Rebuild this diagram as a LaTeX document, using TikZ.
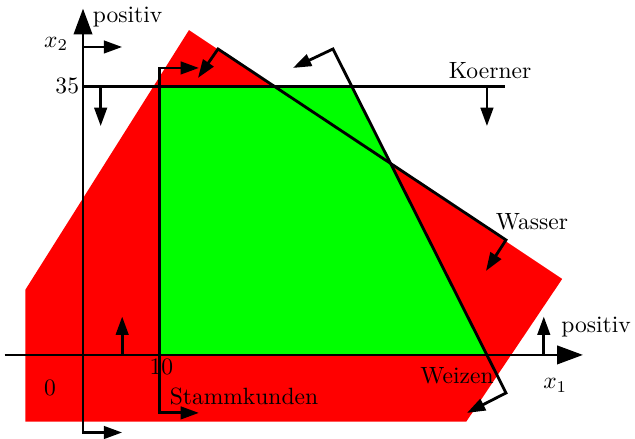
\documentclass[tikz,border=0pt]{standalone}
\usetikzlibrary{arrows.meta}
\definecolor{cRed}  {RGB}{255,  0,  0}
\definecolor{cGreen}{RGB}{  0,255,  0}
\tikzset{
  axis/.style={-{Triangle[length=11pt,width=7.8pt]}, line width=1.2pt},
  cline/.style={line width=1.2pt},
  carrow/.style={-{Triangle[length=7.8pt,width=5.3pt]}, line width=1.2pt},
  cboth/.style={{Triangle[length=7.8pt,width=5.3pt]}-{Triangle[length=7.8pt,width=5.3pt]},
                line width=1.2pt, line join=miter},
  lbl/.style={inner sep=1pt},
}

\begin{document}
\begin{tikzpicture}[x=3.264pt, y=3.264pt]
\useasboundingbox (-10.81,-10.94) rectangle (71.88,46.22);

%% ── Regions ──────────────────────────────────────────────────────────────────
\fill[cRed]   (-7.5,-8.7) -- (-7.5,8.5) -- (13.8,42.3) -- (62.4,9.9)
              -- (49.9,-8.7) -- cycle;
\fill[cGreen] (10,0) -- (10,35) -- (35,35) -- (52.6,0) -- cycle;

%% ── Points ───────────────────────────────────────────────────────────────────
\coordinate (xs)  at (-10.2,0);    \coordinate (xe)  at (65.1,0);
\coordinate (ys)  at (0,0);        \coordinate (ye)  at (0,45.1);
\coordinate (yb)  at (0,-10.1);    \coordinate (ybt) at (5.1,-10.1);
\coordinate (yt)  at (0,40.1);     \coordinate (ytt) at (5.1,40.1);
\coordinate (pa)  at (5.1,0);      \coordinate (pat) at (5.1,5);
\coordinate (pb)  at (60,0);       \coordinate (pbt) at (60,5);
\coordinate (ks)  at (0,35);       \coordinate (ke)  at (54.95,35);
\coordinate (ka)  at (2.3,35);     \coordinate (kat) at (2.3,29.8);
\coordinate (kb)  at (52.6,35);    \coordinate (kbt) at (52.6,29.8);
\coordinate (st)  at (10,37.37);   \coordinate (stt) at (15.1,37.37);
\coordinate (sb)  at (10,-7.55);   \coordinate (sbt) at (15.1,-7.55);
\coordinate (wt)  at (17.58,39.84); \coordinate (wtt) at (14.97,36.07);
\coordinate (wb)  at (55.08,14.97); \coordinate (wbt) at (52.47,10.94);
\coordinate (zt)  at (32.55,39.84); \coordinate (ztt) at (27.34,37.37);
\coordinate (zb)  at (55.08,-4.95); \coordinate (zbt) at (50.0,-7.55);

%% ── Axes ─────────────────────────────────────────────────────────────────────
\draw[axis] (xs) -- (xe);
\draw[axis] (ys) -- (ye);

%% ── Constraints ──────────────────────────────────────────────────────────────
\draw[carrow] (yt) -- (ytt);
\draw[carrow] (ys) -- (yb) -- (ybt);
\draw[carrow] (pa) -- (pat);
\draw[carrow] (pb) -- (pbt);

\draw[cline]  (ks) -- (ke);
\draw[carrow] (ka) -- (kat);
\draw[carrow] (kb) -- (kbt);

\draw[cboth] (stt) -- (st) -- (sb) -- (sbt);
\draw[cboth] (wtt) -- (wt) -- (wb) -- (wbt);
\draw[cboth] (ztt) -- (zt) -- (zb) -- (zbt);

%% ── Labels ───────────────────────────────────────────────────────────────────
\node[lbl] (lx2)    at (-3.5,40.5)  {$x_2$};
\node[lbl] (lpos2)  at (5.8,44.0)   {positiv};
\node[lbl, anchor=east, inner sep=1.5pt] (l35) at (ks) {35};
\node[lbl] (lkoer)  at (53,37.0)    {Koerner};
\node[lbl] (lwass)  at (58.46,17.3) {Wasser};
\node[lbl] (lpos1)  at (66.8,3.6)   {positiv};
\node[lbl] (lx1)    at (61.5,-4.0)  {$x_1$};
\node[lbl] (lweiz)  at (48.7,-2.7)  {Weizen};
\node[lbl] (l10)    at (10.2,-1.6)  {10};
\node[lbl] (l0)     at (-4.3,-4.3)  {0};
\node[lbl] (lstamm) at (20.96,-5.47) {Stammkunden};

\end{tikzpicture}
\end{document}
